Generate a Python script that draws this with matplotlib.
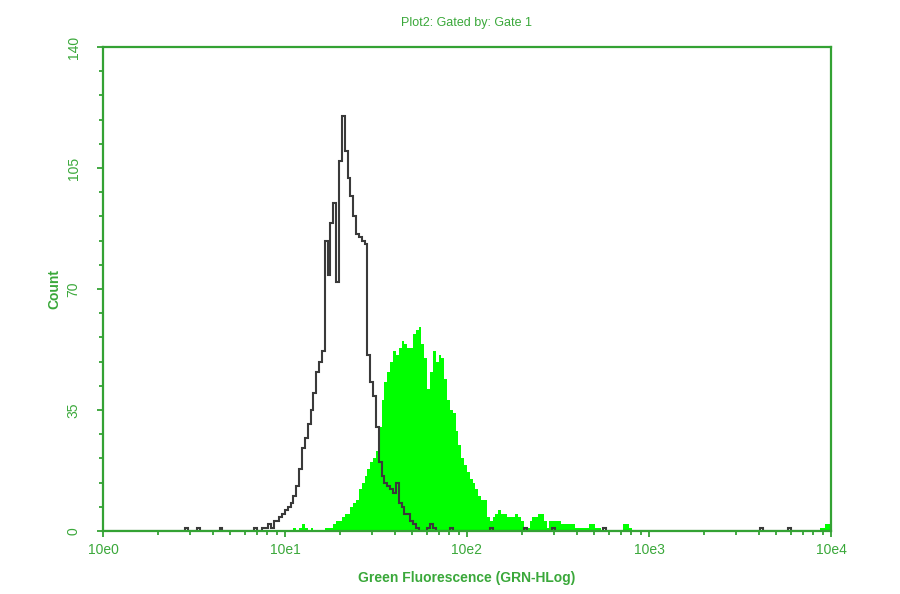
import numpy as np
import matplotlib
matplotlib.use('Agg')
import matplotlib.pyplot as plt
from matplotlib.ticker import FixedLocator, MultipleLocator, LogLocator, NullFormatter

# Channel histogram data (256 log channels over 10^0 .. 10^4)
n_channels = 256
channels_per_decade = 64

# Unstained control (black outline)
black_start = 56
black_counts = [1, 1, 2, 1, 3, 3, 4, 5, 6, 7, 8, 10, 13, 18, 24, 27, 31, 35, 40, 46,
                49, 52, 84, 74, 89, 95, 72, 107, 120, 110, 102, 97, 91, 86, 85, 84, 83, 51, 43, 39,
                30, 20, 16, 14, 13, 12, 11, 14, 8, 7, 5, 5, 3, 2, 1]
black_blip_channels = [29, 33, 41, 53, 114, 115, 116, 122, 136, 148, 158, 176, 231, 241]
black_blip_counts = [1, 1, 1, 1, 1, 2, 1, 1, 1, 1, 1, 1, 1, 1]

# Stained sample (green filled)
green_start = 66
green_counts = [0, 1, 0, 1, 2, 1, 0, 1, 0, 0, 0, 0, 1, 1, 1, 2, 3, 3, 4, 5,
                5, 7, 8, 9, 12, 14, 16, 18, 20, 21, 23, 30, 38, 43, 46, 49, 52, 51, 53, 55,
                54, 53, 53, 57, 58, 59, 54, 50, 41, 46, 52, 49, 51, 50, 44, 38, 35, 34, 29, 25,
                21, 19, 17, 15, 14, 12, 10, 9, 9, 4, 3, 4, 5, 6, 5, 5, 4, 4, 4, 5,
                4, 3, 1, 1, 3, 4, 4, 5, 5, 3, 1, 3, 3, 3, 3, 2, 2, 2, 2, 2,
                1, 1, 1, 1, 1, 2, 2, 1, 1, 0, 0, 0, 0, 0, 0, 0, 0, 2, 2, 1]
green_blip_channels = [252, 253, 254, 255]
green_blip_counts = [1, 1, 2, 2]

y_ticks = [0, 35, 70, 105, 140]
x_ticks = [1, 10, 100, 1000, 10000]
x_tick_labels = ['10e0', '10e1', '10e2', '10e3', '10e4']

axis_green = '#34a234'
text_green = '#3aa83a'

# build full channel arrays
black = np.zeros(n_channels)
black[black_start:black_start + len(black_counts)] = black_counts
black[black_blip_channels] = black_blip_counts
green = np.zeros(n_channels)
green[green_start:green_start + len(green_counts)] = green_counts
green[green_blip_channels] = green_blip_counts
edges = 10 ** (np.arange(n_channels + 1) / channels_per_decade)

fig = plt.figure(figsize=(9, 5.94), dpi=100)
ax = fig.add_axes([0.1144, 0.1061, 0.8089, 0.8148])
plt.rcParams['font.family'] = ['Liberation Sans', 'DejaVu Sans']

ax.stairs(green, edges, fill=True, color='#00ff00', zorder=1)
ax.stairs(black, edges, color='#3a3a3a', linewidth=1.5, zorder=2)

ax.set_xscale('log')
ax.set_xlim(1, 10000)
ax.set_ylim(0, 140)

for s in ax.spines.values():
    s.set_color(axis_green)
    s.set_linewidth(1.6)

ax.xaxis.set_major_locator(FixedLocator(x_ticks))
ax.set_xticklabels(x_tick_labels, family='Liberation Sans')
ax.xaxis.set_minor_locator(LogLocator(base=10, subs=np.arange(2, 10)))
ax.xaxis.set_minor_formatter(NullFormatter())
ax.yaxis.set_major_locator(FixedLocator(y_ticks))
ax.yaxis.set_minor_locator(MultipleLocator(7))
ax.set_yticklabels([str(v) for v in y_ticks], rotation=90, va='center', family='Liberation Sans')

ax.tick_params(which='both', direction='out', color=axis_green, width=1.3,
               labelcolor=text_green, labelsize=10)
ax.tick_params(which='major', length=4)
ax.tick_params(which='minor', length=3)
ax.tick_params(axis='x', pad=5)
ax.tick_params(axis='y', pad=12)

ax.set_xlabel('Green Fluorescence (GRN-HLog)', color=text_green, fontsize=10,
              fontweight='bold', family='Liberation Sans', labelpad=10)
ax.set_ylabel('Count', color=text_green, fontsize=10, fontweight='bold',
              family='Liberation Sans', labelpad=4)
ax.set_title('Plot2: Gated by: Gate 1', color=text_green, fontsize=9,
             family='Liberation Sans', pad=15)

fig.savefig('out.png', dpi=100)
